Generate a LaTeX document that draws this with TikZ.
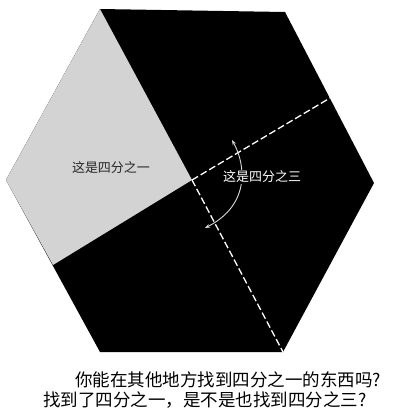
\documentclass[tikz,border=0pt]{standalone}
\usepackage{fontspec}
\newfontfamily\cjk{Noto Sans CJK SC}
\usetikzlibrary{arrows.meta}
\definecolor{quartergrey}{RGB}{211,211,211}
\tikzset{
  cutline/.style={white, line width=1.3pt, dash pattern=on 7pt off 3pt},
  turnarrow/.style={white!85!black, line width=0.9pt, {Stealth[length=5pt]}-{Stealth[length=5pt]}},
  parttext/.style={font=\cjk\fontsize{13}{13}\selectfont, inner sep=1pt},
  asktext/.style={font=\cjk\fontsize{17.5}{17.5}\selectfont, anchor=center, inner sep=0pt}
}
\begin{document}
\begin{tikzpicture}[x=1pt, y=-1pt]
        \useasboundingbox (0,0) rectangle (407,416);

        % corners of the hexagon
        \coordinate (tl) at (100,9);
        \coordinate (tr) at (285,12);
        \coordinate (r) at (374,183);
        \coordinate (br) at (283,352);
        \coordinate (bl) at (100,352);
        \coordinate (l) at (6,180);
        \coordinate (o) at (192,180);
        \coordinate (mr) at (330,98);
        \coordinate (ml) at (53,265);

        \fill[black] (tl) -- (tr) -- (r) -- (br) -- (bl) -- (l) -- cycle;
        \fill[quartergrey] (tl) -- (o) -- (ml) -- (l) -- cycle;

        \draw[cutline] (o) -- (mr);
        \draw[cutline] (o) -- (br);

        % turning arrow round the centre
        \coordinate (arc-top) at (232,140);
        \coordinate (arc-end) at (205,228);
        \draw[turnarrow] (arc-top) .. controls (246,165) and (250,205) .. (arc-end);

        \node[parttext, fill=black, text=white] (three) at (262,177) {这是四分之三};
        \node[parttext, text=black!85] (one) at (111,168) {这是四分之一};

        \node[asktext] (ask) at (228,380) {你能在其他地方找到四分之一的东西吗?};
        \node[asktext] (found) at (205,400) {找到了四分之一，是不是也找到四分之三?};
      \end{tikzpicture}
\end{document}
